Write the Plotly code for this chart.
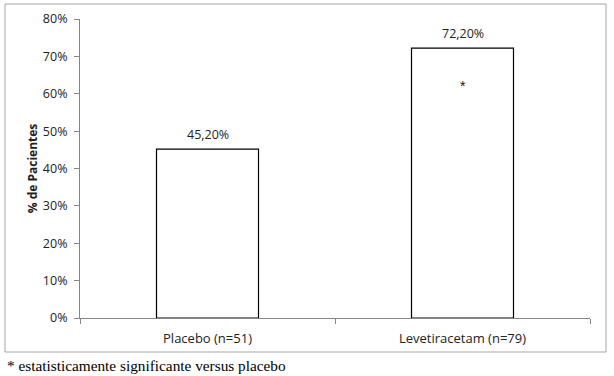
import plotly.graph_objects as go

categories = ["Placebo (n=51)", "Levetiracetam (n=79)"]
values = [0.452, 0.722]
value_labels = ["45,20%", "72,20%"]
marker_text = ["", "*"]
y_ticks = [0, 0.1, 0.2, 0.3, 0.4, 0.5, 0.6, 0.7, 0.8]
y_tick_labels = ["0%", "10%", "20%", "30%", "40%", "50%", "60%", "70%", "80%"]
y_title = "% de Pacientes"
footnote = "* estatisticamente significante versus placebo"

W, H = 614, 376
ml, mr, mt, mb = 80, 24, 19, 58
pw, ph = W - ml - mr, H - mt - mb

def px_x(x):
    return (x - ml) / pw

def px_y(y):
    return (H - mb - y) / ph

fig = go.Figure(go.Bar(
    x=categories, y=values,
    marker=dict(color="white", line=dict(color="black", width=1.2)),
    width=0.4, hoverinfo="skip",
))

fam = "Open Sans, Liberation Sans, sans-serif"
tick_font = dict(family=fam, size=12.5, color="#222")
cat_font = dict(family=fam, size=13, color="#222")
label_font = dict(family=fam, size=12.5, color="#222")

for c, v, t in zip(categories, values, value_labels):
    fig.add_annotation(x=c, y=v, text=t, showarrow=False, yanchor="bottom",
                       yshift=4, font=label_font)
for c, t in zip(categories, marker_text):
    if t:
        fig.add_annotation(x=c, y=0.62, text=t, showarrow=False,
                           font=dict(family="Liberation Sans", size=14, color="#111"))

fig.add_annotation(xref="paper", yref="paper", x=px_x(5), y=px_y(365),
                   xanchor="left", yanchor="middle", text=footnote, showarrow=False,
                   font=dict(family="Liberation Serif, Times New Roman, serif", size=15.3, color="black"))

fig.add_shape(type="rect", xref="paper", yref="paper",
              x0=px_x(5), x1=px_x(606), y0=px_y(352), y1=px_y(4),
              line=dict(color="#a6a6a6", width=1), fillcolor="rgba(0,0,0,0)")

fig.update_layout(
    width=W, height=H, margin=dict(l=ml, r=mr, t=mt, b=mb, autoexpand=False),
    plot_bgcolor="white", paper_bgcolor="white", showlegend=False,
    font=tick_font,
    xaxis=dict(showline=True, linecolor="#868686", linewidth=1, ticks="outside",
               tickson="boundaries", ticklen=5, tickcolor="#868686",
               showgrid=False, tickfont=cat_font, automargin=False,
               ticklabelstandoff=8),
    yaxis=dict(range=[0, 0.8], tickvals=y_ticks, ticktext=y_tick_labels,
               showline=True, linecolor="#868686", linewidth=1, ticks="outside",
               ticklen=5, tickcolor="#868686", showgrid=False, zeroline=False,
               tickfont=tick_font, automargin=False, ticklabelstandoff=4,
               title=dict(text="<b>" + y_title + "</b>",
                          font=dict(family=fam, size=12, color="#222"), standoff=2)),
)

fig.write_html("out.html", config={"displayModeBar": False},
               post_script="document.body.style.margin='0';")
